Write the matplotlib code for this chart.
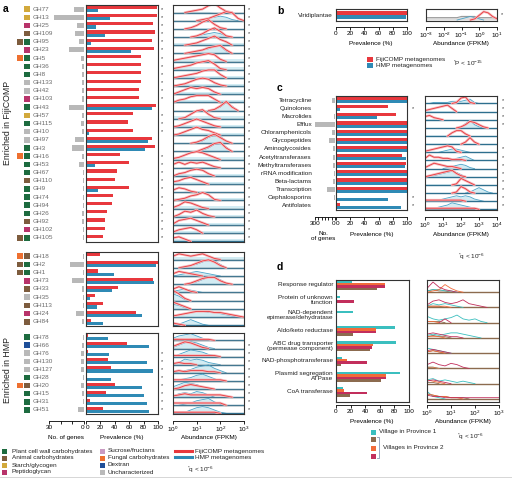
import numpy as np
import matplotlib
matplotlib.use('Agg')
import matplotlib.pyplot as plt
from matplotlib.patches import Rectangle
from matplotlib.lines import Line2D
from matplotlib.ticker import NullLocator

plt.rcParams['font.family'] = ['Liberation Sans', 'DejaVu Sans']
plt.rcParams['mathtext.fontset'] = 'custom'
plt.rcParams['mathtext.rm'] = 'Liberation Sans'
plt.rcParams['mathtext.it'] = 'Liberation Sans:italic'
plt.rcParams['mathtext.bf'] = 'Liberation Sans:bold'

# ---------------- data: panel a ----------------
top_labels = ['GH77', 'GH13', 'GH25', 'GH109', 'GH95', 'GH23', 'GH5', 'GH36', 'GH8', 'GH133',
              'GH42', 'GH103', 'GH43', 'GH57', 'GH115', 'GH10', 'GH97', 'GH3', 'GH16', 'GH53',
              'GH67', 'GH110', 'GH9', 'GH74', 'GH94', 'GH26', 'GH92', 'GH102', 'GH105']
top_cats = [['S'], ['S'], ['P'], ['A'], ['A', 'W'], ['P'], ['F', 'W'], ['W'], ['W'], ['U'],
            ['U'], ['P'], ['W'], ['S'], ['W'], ['U'], ['U'], ['W'], ['F', 'W'], ['W'],
            ['W'], ['A'], ['W'], ['W'], ['W'], ['W'], ['A'], ['P'], ['A', 'W']]
top_genes = [9, 26, 6, 8, 4, 13, 3, 2, 2, 2, 2, 2, 13, 2, 3, 2, 8, 10, 2, 4, 1, 1, 1, 1, 1, 2, 2, 1, 1]
top_fiji = [99, 98, 93, 96, 92, 94, 77, 76, 76, 77, 73, 73, 97, 65, 58, 65, 92, 96, 47, 60,
            43, 40, 60, 37, 36, 29, 26, 27, 23]
top_hmp = [16, 33, 14, 27, 7, 63, 0.5, 0, 0, 1, 0, 0, 92, 0, 0, 4, 86, 82, 0, 12,
           0, 0, 16, 0, 0, 0, 0, 0, 0]
top_star_prev = [1]*12 + [0] + [1]*3 + [0, 0] + [1]*11
top_star_abund = [1]*29
top_red_ab = ['0001236841000', '0000012468720', '0001368410000', '0000136851000', '0001246853000',
              '0001235673000', '1234567620000', '1234678510000', '0123467730000', '0124676310000',
              '0246565200000', '0235666300000', '0000000148300', '0014784100000', '0135753100000',
              '0135754200000', '0000136852000', '0000024783000', '1246764200000', '3535453100000',
              '0235652000000', '2356420000000', '2431000000000', '0124575100000', '1365310000000',
              '0254631000000', '1456420000000', '1345300000000', '3420000000000']
top_blue_ab = ['0011111000000', '0000012343100', '0011111000000', '0000123431000', '2222222222222',
               '0001234662000', '2222222222222', '2222222222222', '2222222222222', '2222222222222',
               '2222222222222', '2222222222222', '0000000137400', '2222222222222', '2222222222222',
               '2222222222222', '0000125762000', '0000013674000', '2222222222222', '0011111000000',
               '2222222222222', '2222222222222', '0011111000000', '2222222222222', '2222222222222',
               '2222222222222', '2222222222222', '2222222222222', '2222222222222']

mid_labels = ['GH18', 'GH2', 'GH1', 'GH73', 'GH33', 'GH35', 'GH113', 'GH24', 'GH84']
mid_cats = [['F', 'A'], ['A', 'W'], ['A', 'W'], ['P'], ['A'], ['U'], ['A'], ['P'], ['A']]
mid_genes = [1, 12, 1, 10, 2, 1, 1, 7, 2]
mid_fiji = [20, 100, 17, 93, 45, 12, 24, 69, 7]
mid_hmp = [0, 97, 39, 94, 36, 6, 15, 78, 23]
mid_star_prev = [0]*9
mid_star_abund = [0]*9
mid_red_ab = ['3543453100000', '0012467520000', '2432100000000', '0001356631000', '3531000000000',
              '9620000000000', '6420000000000', '1234555443210', '2100000000000']
mid_blue_ab = ['2222222222222', '0012357630000', '0123432100000', '0001246641000', '1232100000000',
               '6410000000000', '4310000000000', '1234554432100', '0135310000000']

bot_labels = ['GH78', 'GH66', 'GH76', 'GH130', 'GH127', 'GH28', 'GH20', 'GH15', 'GH31', 'GH51']
bot_cats = [['W'], ['D'], ['U'], ['U'], ['U'], ['W'], ['F', 'A'], ['W'], ['W'], ['W']]
bot_genes = [1, 2, 3, 3, 3, 1, 3, 2, 1, 5]
bot_fiji = [3, 57, 3, 30, 35, 1, 40, 28, 5, 23]
bot_hmp = [31, 87, 32, 85, 93, 35, 78, 81, 85, 88]
bot_star_prev = [0, 0] + [1]*8
bot_star_abund = [0] + [1]*9
bot_red_ab = ['1111111000000', '2465310000000', '1111111100000', '1211000000000', '1212221100000',
              '1111111110000', '0134321000000', '1232222221000', '2222222220000', '1111111100000']
bot_blue_ab = ['2456420000000', '1356531000000', '0246542100000', '0254542100000', '0123567420000',
               '0123564200000', '2465421000000', '1343542000000', '0012456310000', '0013565310000']

cat_names = {'W': 'Plant cell wall carbohydrates', 'A': 'Animal carbohydrates', 'S': 'Starch/glycogen',
             'P': 'Peptidoglycan', 'Su': 'Sucrose/fructans', 'F': 'Fungal carbohydrates',
             'D': 'Dextran', 'U': 'Uncharacterized'}
cat_colors = {'W': '#1d6b3f', 'A': '#7d5c3e', 'S': '#d2a93c', 'P': '#b8336a',
              'Su': '#c99bc2', 'F': '#ee7030', 'D': '#1f4f99', 'U': '#b9b9b9'}
legend_col1 = ['W', 'A', 'S', 'P']
legend_col2 = ['Su', 'F', 'D', 'U']

# ---------------- data: panel b ----------------
b_labels = ['Viridiplantae']
b_fiji = [100]
b_hmp = [98]
b_red_ab = '00000000000147631'
b_blue_ab = '00000000123210000'
b_grey_ab = '22222222333322222'

# ---------------- data: panel c ----------------
c_labels = ['Tetracycline', 'Quinolones', 'Macrolides', 'Efflux', 'Chloramphenicols', 'Glycopeptides',
            'Aminoglycosides', 'Acetyltransferases', 'Methyltransferases', 'rRNA modification',
            'Beta-lactams', 'Transcription', 'Cephalosporins', 'Antifolates']
c_genes = [40, 3, 10, 310, 40, 85, 25, 35, 35, 10, 35, 125, 10, 3]
c_fiji = [100, 73, 84, 100, 100, 100, 100, 93, 99, 100, 100, 100, 0, 5]
c_hmp = [100, 5, 58, 100, 100, 100, 100, 99, 97, 100, 100, 100, 73, 91]
c_star_prev = [0, 1, 0, 0, 0, 0, 0, 0, 0, 0, 0, 0, 1, 1]
c_star_abund = [1, 1, 1, 1, 0, 0, 1, 1, 1, 1, 1, 1, 1, 1]
c_red_ab = ['00000001561000000', '12345630000000000', '34210000000000000', '00000000136531000',
            '00000035520000000', '00000000026200000', '12345651000000000', '25332211100000000',
            '13543221000000000', '01234563100000000', '00000001642000000', '00000001641000000',
            '11111111100000000', '11111111111100000']
c_blue_ab = ['00111122234100000', '11111111000000000', '11100000000000000', '00000000147310000',
             '11111111100000000', '11111111111000000', '00001233210000000', '00000002342000000',
             '00000123431000000', '01123454200000000', '11111111111000000', '00000000001353100',
             '00012345454210000', '00123465432100000']

# ---------------- data: panel d ----------------
d_labels = ['Response regulator', 'Protein of unknown\nfunction', 'NAD-dependent\nepimerase/dehydratase',
            'Aldo/keto reductase', 'ABC drug transporter\n(permease component)', 'NAD-phosphotransferase',
            'Plasmid segregation\nATPase', 'CoA transferase']
d_prov1 = [22, 5, 23, 81, 82, 8, 88, 9]
d_orange = [67, 0.5, 2, 55, 50, 15, 68, 11]
d_crimson = [67, 25, 2, 55, 49, 43, 68, 43]
d_brown = [56, 0.5, 0.5, 23, 46, 7, 62, 19]
d_teal_ab = ['1221100000000', '1323210000000', '5323463231000', '2323443210000',
             '4321000000000', '1100000000000', '3423212100000', '6210000000000']
d_orange_ab = ['0126310000000', '1111000000000', '1100000000000', '1110000000000',
               '1210000000000', '1100000000000', '3210000000000', '4322110000000']
d_crimson_ab = ['3842100000000', '2564346321000', '0003000000000', '3432110000000',
                '2321000000000', '3532431000000', '2321000000000', '3221111111111']
d_brown_ab = ['1211000000000', '1110000000000', '1110000000000', '1211000000000',
              '1210000000000', '1000000000000', '1100000000000', '4322111000000']

RED = '#e8383d'
BLUE = '#2f8ab5'
TEAL = '#3bbfbf'
ORANGE = '#f26b3a'
CRIMSON = '#c22e5c'
BROWN = '#8c6b4f'
GREY = '#b8b8b8'
FS = 4.6

W, H = 512, 482
fig = plt.figure(figsize=(W / 100, H / 100), dpi=100)


def ax_px(x0, y0, x1, y1):
    return fig.add_axes([x0 / W, 1 - y1 / H, (x1 - x0) / W, (y1 - y0) / H])


def ftext(x, y, s, **kw):
    kw.setdefault('fontsize', FS)
    kw.setdefault('va', 'center')
    return fig.text(x / W, 1 - y / H, s, **kw)


def box_axes(x0, y0, x1, y1, n, xlim, log=False):
    ax = ax_px(x0, y0, x1, y1)
    if log:
        ax.set_xscale('log')
    ax.set_xlim(*xlim)
    ax.set_ylim(n - 0.5, -0.5)
    ax.set_xticks([])
    ax.set_yticks([])
    ax.xaxis.set_minor_locator(NullLocator())
    ax.yaxis.set_minor_locator(NullLocator())
    ax.tick_params(which='both', bottom=False, left=False, labelbottom=False, labelleft=False)
    for s in ax.spines.values():
        s.set_linewidth(0.8)
        s.set_color('#333333')
    return ax


def blank_axes(x0, y0, x1, y1, n, xlim):
    ax = ax_px(x0, y0, x1, y1)
    ax.set_xlim(*xlim)
    ax.set_ylim(n - 0.5, -0.5)
    ax.axis('off')
    return ax


def tick_axis(x0, x1, y, lim, ticks, labels, log=False, first_ha=None, last_ha=None):
    ax = ax_px(x0, y, x1, y + 1)
    ax.patch.set_alpha(0)
    for s in ['top', 'left', 'right']:
        ax.spines[s].set_visible(False)
    ax.spines['bottom'].set_linewidth(0.6)
    if log:
        ax.set_xscale('log')
    ax.set_xlim(*lim)
    ax.set_xticks(ticks)
    ax.set_xticklabels(labels)
    ax.xaxis.set_minor_locator(NullLocator())
    ax.set_yticks([])
    ax.tick_params(axis='x', length=2, width=0.6, pad=1, labelsize=FS)
    tl = ax.get_xticklabels()
    if first_ha:
        tl[0].set_ha(first_ha)
    if last_ha:
        tl[-1].set_ha(last_ha)
    return ax


def heights(s):
    return np.array([int(c) for c in s]) / 9.0


def curve(ax, xs, base, s, scale, color, lw=0.6, halo=None, fill=None, minline=0):
    h = heights(s) * scale
    y = base - h
    if fill is not None:
        ax.fill_between(xs, base, y, color=fill, lw=0, alpha=0.8)
    nz = np.nonzero(h)[0]
    if len(nz) == 0 or max(s) < str(minline):
        return
    lo = max(nz[0] - 1, 0)
    hi = min(nz[-1] + 1, len(h) - 1)
    if halo:
        ax.plot(xs[lo:hi + 1], y[lo:hi + 1], color=halo, lw=lw * 3, solid_capstyle='round')
    ax.plot(xs[lo:hi + 1], y[lo:hi + 1], color=color, lw=lw)


PCT_T = [0, 20, 40, 60, 80, 100]
PCT_L = ['0', '20', '40', '60', '80', '100']

# ---------------- panel a ----------------
xa = 10 ** np.arange(0, 3.001, 0.25)
boxes = [
    (top_labels, top_cats, top_genes, top_fiji, top_hmp, top_star_prev, top_star_abund, top_red_ab, top_blue_ab, 5, 242),
    (mid_labels, mid_cats, mid_genes, mid_fiji, mid_hmp, mid_star_prev, mid_star_abund, mid_red_ab, mid_blue_ab, 252, 326),
    (bot_labels, bot_cats, bot_genes, bot_fiji, bot_hmp, bot_star_prev, bot_star_abund, bot_red_ab, bot_blue_ab, 333, 414),
]
for labels, cats, genes, fiji, hmp, sp, sa, red_ab, blue_ab, y0, y1 in boxes:
    n = len(labels)
    rowpx = (y1 - y0) / n
    yy = np.arange(n)
    axl = blank_axes(14, y0, 49, y1, n, (14, 49))
    sq = 5.5 / rowpx
    for i, (lab, cc) in enumerate(zip(labels, cats)):
        axl.text(33, i, lab, fontsize=FS, color='#6a6a6a', va='center', ha='left')
        xs_sq = [24] if len(cc) == 1 else [17, 24]
        for xq, c in zip(xs_sq, cc):
            axl.add_patch(Rectangle((xq, i - sq / 2), 5.5, sq, color=cat_colors[c], lw=0))
    axg = blank_axes(49, y0, 84, y1, n, (30, 0))
    axg.barh(yy, genes, height=0.62, color=GREY, lw=0)
    axp = box_axes(86, y0, 158, y1, n, (0, 100))
    axp.barh(yy - 0.19, fiji, height=0.38, color=RED, lw=0)
    axp.barh(yy + 0.19, hmp, height=0.38, color=BLUE, lw=0)
    for i in range(n):
        if sp[i]:
            ftext(160.5, y0 + (i + 0.5) * rowpx, '*', fontsize=4, color='#333')
        if sa[i]:
            ftext(247.5, y0 + (i + 0.5) * rowpx, '*', fontsize=4, color='#333')
    axa = box_axes(173, y0, 244, y1, n, (1, 1000), log=True)
    for i in range(n):
        base = i + 0.42
        axa.plot([1, 1000], [i - 0.5, i - 0.5], color='#9a9a9a', lw=0.3)
        curve(axa, xa, base, blue_ab[i], 1.25, '#4aa3c8', lw=0.6, fill='#c9e8f1', minline=3)
        axa.plot([1, 1000], [base, base], color='#2e6f8e', lw=1.0)
        curve(axa, xa, base, red_ab[i], 1.25, RED, lw=0.6, halo='#f6bcbf')

tick_axis(49, 84, 420, (30, 0), [30, 20, 10, 0], ['30', '', '', '0'], last_ha='right')
tick_axis(86, 158, 420, (0, 100), PCT_T, PCT_L, first_ha='left')
tick_axis(173, 244, 420, (1, 1000), [1, 10, 100, 1000],
          [r'$10^{0}$', r'$10^{1}$', r'$10^{2}$', r'$10^{3}$'], log=True)
ftext(66, 437, 'No. of genes', ha='center')
ftext(122, 437, 'Prevalence (%)', ha='center')
ftext(209, 437, 'Abundance (FPKM)', ha='center')
ftext(8, 123, 'Enriched in FijiCOMP', rotation=90, ha='center', fontsize=6.3, color='#222')
ftext(8, 370, 'Enriched in HMP', rotation=90, ha='center', fontsize=6.3, color='#222')
ftext(3, 9, 'a', fontsize=7.5, fontweight='bold')

# bottom legend
ly = [451, 458, 465, 472]
for k, c in enumerate(legend_col1):
    fig.patches.append(Rectangle((2 / W, 1 - (ly[k] + 2.5) / H), 5 / W, 5 / H,
                                 transform=fig.transFigure, color=cat_colors[c], lw=0))
    ftext(12, ly[k], cat_names[c], color='#222')
for k, c in enumerate(legend_col2):
    fig.patches.append(Rectangle((100 / W, 1 - (ly[k] + 2.5) / H), 5 / W, 5 / H,
                                 transform=fig.transFigure, color=cat_colors[c], lw=0))
    ftext(108, ly[k], cat_names[c], color='#222')
for yv, col, name in [(451, RED, 'FijiCOMP metagenomes'), (457, BLUE, 'HMP metagenomes')]:
    fig.lines.append(Line2D([175 / W, 192 / W], [1 - yv / H, 1 - yv / H], transform=fig.transFigure,
                            color=col, lw=2.2))
    ftext(195, yv, name, color='#222')
ftext(187, 470, r'$^{*}$q < 10$^{-6}$', color='#222')

# ---------------- panel b ----------------
ftext(277, 11, 'b', fontsize=7.5, fontweight='bold')
ftext(333, 15, b_labels[0], ha='right', color='#222')
axbp = box_axes(336, 9, 407, 21, 1, (0, 100))
axbp.barh([-0.19], b_fiji, height=0.36, color=RED, lw=0)
axbp.barh([0.19], b_hmp, height=0.36, color=BLUE, lw=0)
axba = box_axes(426, 9, 497, 21, 1, (1e-3, 10), log=True)
xb = 10 ** np.arange(-3, 1.001, 0.25)
curve(axba, xb, 0.42, b_grey_ab, 0.9, '#9a9a9a', lw=0.8, fill='#d5d5d5')
curve(axba, xb, 0.42, b_blue_ab, 0.9, '#4aa3c8', lw=0.6)
curve(axba, xb, 0.42, b_red_ab, 0.9, RED, lw=0.6, halo='#f6bcbf')
ftext(501, 15, '*', fontsize=4, color='#333')
tick_axis(336, 407, 26, (0, 100), PCT_T, PCT_L)
tick_axis(426, 497, 26, (1e-3, 10), [1e-3, 1e-2, 1e-1, 1, 10],
          [r'$10^{-3}$', r'$10^{-2}$', r'$10^{-1}$', r'$10^{0}$', r'$10^{1}$'], log=True)
ftext(371, 44, 'Prevalence (%)', ha='center')
ftext(461, 44, 'Abundance (FPKM)', ha='center')
for yv, col, name in [(59, RED, 'FijiCOMP metagenomes'), (66, BLUE, 'HMP metagenomes')]:
    fig.patches.append(Rectangle((367 / W, 1 - (yv + 2.5) / H), 6 / W, 5 / H,
                                 transform=fig.transFigure, color=col, lw=0))
    ftext(376, yv, name, color='#222')
ftext(453, 63, r'$^{*}$P < 10$^{-15}$', color='#222')

# ---------------- panel c ----------------
ftext(277, 88, 'c', fontsize=7.5, fontweight='bold')
nc = len(c_labels)
cy0, cy1 = 96, 210
crow = (cy1 - cy0) / nc
for i, lab in enumerate(c_labels):
    ftext(312, cy0 + (i + 0.5) * crow, lab, ha='right', color='#222')
axcg = blank_axes(315, cy0, 335, cy1, nc, (300, 0))
axcg.barh(np.arange(nc), c_genes, height=0.62, color=GREY, lw=0)
axcp = box_axes(336, cy0, 407, cy1, nc, (0, 100))
axcp.barh(np.arange(nc) - 0.19, c_fiji, height=0.38, color=RED, lw=0)
axcp.barh(np.arange(nc) + 0.19, c_hmp, height=0.38, color=BLUE, lw=0)
axca = box_axes(425, cy0, 497, cy1, nc, (1, 1e4), log=True)
xc = 10 ** np.arange(0, 4.001, 0.25)
for i in range(nc):
    base = i + 0.42
    curve(axca, xc, base, c_blue_ab[i], 1.2, '#4aa3c8', lw=0.6, fill='#c9e8f1', minline=2)
    axca.plot([1, 1e4], [base, base], color='#2e6f8e', lw=1.0)
    curve(axca, xc, base, c_red_ab[i], 1.2, RED, lw=0.6, halo='#f6bcbf')
    if c_star_prev[i]:
        ftext(412, cy0 + (i + 0.5) * crow, '*', fontsize=4, color='#333')
    if c_star_abund[i]:
        ftext(502, cy0 + (i + 0.5) * crow, '*', fontsize=4, color='#333')
tick_axis(315, 335, 216, (300, 0), [300, 250, 200, 150, 100, 50, 0], ['300', '', '', '', '', '', '0'],
          last_ha='right')
tick_axis(336, 407, 216, (0, 100), PCT_T, PCT_L, first_ha='left')
tick_axis(425, 497, 216, (1, 1e4), [1, 10, 100, 1e3, 1e4],
          [r'$10^{0}$', r'$10^{1}$', r'$10^{2}$', r'$10^{3}$', r'$10^{4}$'], log=True)
ftext(323, 236, 'No.\nof genes', ha='center', linespacing=1.2)
ftext(372, 234, 'Prevalence (%)', ha='center')
ftext(461, 234, 'Abundance (FPKM)', ha='center')
ftext(458, 257, r'$^{*}$q < 10$^{-6}$', color='#222')

# ---------------- panel d ----------------
ftext(277, 267, 'd', fontsize=7.5, fontweight='bold')
nd = len(d_labels)
dy0, dy1 = 280, 402
drow = (dy1 - dy0) / nd
for i, lab in enumerate(d_labels):
    ftext(333, dy0 + (i + 0.5 - 0.2) * drow, lab, ha='right', color='#222', linespacing=1.0)
axdp = box_axes(336, dy0, 409, dy1, nd, (0, 100))
yd = np.arange(nd)
for off, vals, col in [(-0.40, d_prov1, TEAL), (-0.24, d_orange, ORANGE),
                       (-0.08, d_crimson, CRIMSON), (0.08, d_brown, BROWN)]:
    axdp.barh(yd + off, vals, height=0.165, color=col, lw=0)
axda = box_axes(427, dy0, 499, dy1, nd, (1, 1000), log=True)
for i in range(nd):
    base = i + 0.3
    axda.plot([1, 1000], [base, base], color=BROWN, lw=1.0)
    curve(axda, xa, base, d_brown_ab[i], 0.75, BROWN, lw=0.6)
    curve(axda, xa, base, d_teal_ab[i], 0.75, TEAL, lw=0.6)
    curve(axda, xa, base, d_orange_ab[i], 0.75, ORANGE, lw=0.6)
    curve(axda, xa, base, d_crimson_ab[i], 0.75, CRIMSON, lw=0.6)
tick_axis(336, 409, 404, (0, 100), PCT_T, PCT_L)
tick_axis(427, 499, 404, (1, 1000), [1, 10, 100, 1000],
          [r'$10^{0}$', r'$10^{1}$', r'$10^{2}$', r'$10^{3}$'], log=True)
ftext(372, 422, 'Prevalence (%)', ha='center')
ftext(463, 422, 'Abundance (FPKM)', ha='center')
for yv, col in [(432, TEAL), (439, BROWN), (448, ORANGE), (456, CRIMSON)]:
    fig.patches.append(Rectangle((371 / W, 1 - (yv + 2.5) / H), 5 / W, 5 / H,
                                 transform=fig.transFigure, color=col, lw=0))
ftext(379, 432, 'Village in Province 1', color='#222')
bx = [377 / W, 379 / W, 379 / W, 377 / W]
by = [1 - 437 / H, 1 - 437 / H, 1 - 458 / H, 1 - 458 / H]
fig.lines.append(Line2D(bx, by, transform=fig.transFigure, color='#8a9ab8', lw=0.6))
ftext(383, 448, 'Villages in Province 2', color='#222')
ftext(457, 437, r'$^{*}$q < 10$^{-6}$', color='#222')

fig.lines.append(Line2D([0, 1], [1 - 477 / H, 1 - 477 / H], transform=fig.transFigure,
                        color='#d0d0d0', lw=0.6))

fig.savefig('out.png', dpi=100)
